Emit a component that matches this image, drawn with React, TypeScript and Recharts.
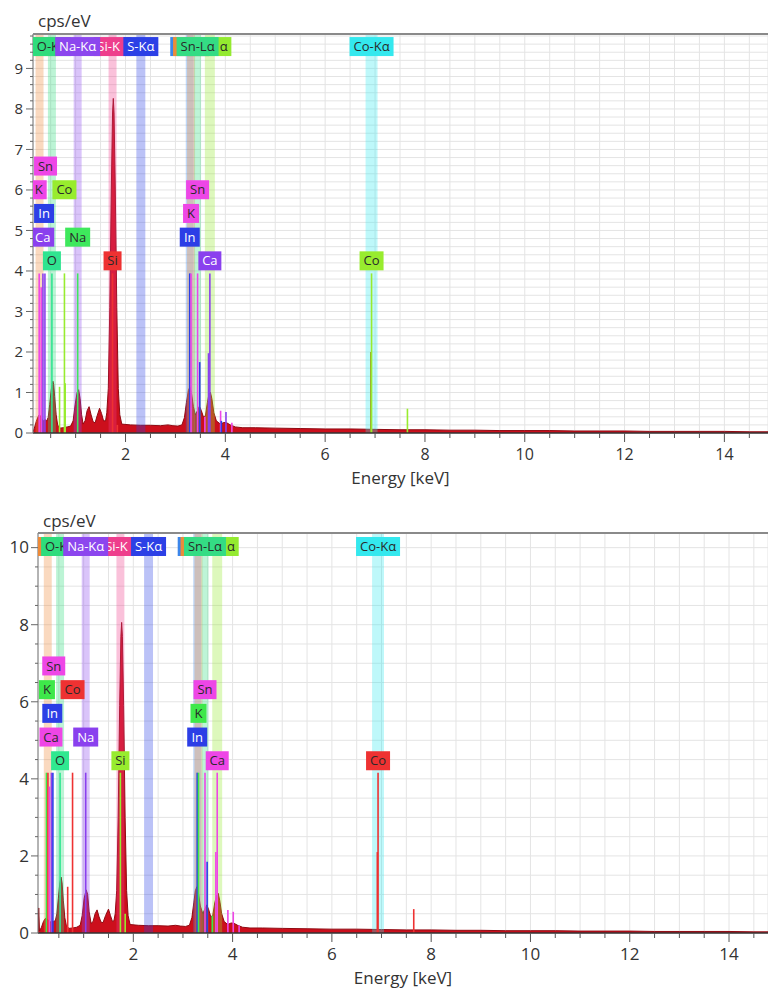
import React from 'react';
import {
  ComposedChart,
  Area,
  XAxis,
  YAxis,
  CartesianGrid,
  ReferenceArea,
  ReferenceLine,
  ReferenceDot,
} from 'recharts';

const FONT = '"Open Sans", "DejaVu Sans", sans-serif';

// spectra, [energy keV, cps/eV]
const spectrumTop: [number, number][] = [
  [0.15, 0.03], [0.18, 0.15], [0.21, 0.28], [0.24, 0.38], [0.27, 0.45], [0.3, 0.42],
  [0.33, 0.33], [0.36, 0.3], [0.39, 0.33], [0.42, 0.3], [0.45, 0.38], [0.48, 0.7],
  [0.51, 1.05], [0.53, 1.22], [0.545, 1.28], [0.56, 1.2], [0.58, 0.9], [0.61, 0.45],
  [0.64, 0.2], [0.68, 0.12], [0.75, 0.13], [0.83, 0.15], [0.9, 0.17], [0.95, 0.3],
  [0.99, 0.7], [1.03, 1.0], [1.06, 1.07], [1.09, 0.85], [1.12, 0.45], [1.15, 0.22],
  [1.19, 0.3], [1.23, 0.55], [1.27, 0.65], [1.31, 0.45], [1.35, 0.28], [1.39, 0.25],
  [1.43, 0.42], [1.48, 0.61], [1.52, 0.48], [1.56, 0.3], [1.6, 0.3], [1.625, 0.5],
  [1.655, 1.1], [1.685, 3.1], [1.715, 6.0], [1.74, 7.9], [1.755, 8.26], [1.77, 7.9],
  [1.795, 6.0], [1.825, 3.1], [1.855, 1.1], [1.885, 0.45], [1.925, 0.22], [2.1, 0.2],
  [2.3, 0.19], [2.5, 0.19], [2.7, 0.18], [2.85, 0.2], [2.95, 0.18], [3.05, 0.17],
  [3.13, 0.2], [3.18, 0.38], [3.22, 0.75], [3.26, 1.05], [3.29, 1.14], [3.32, 1.0],
  [3.36, 0.65], [3.4, 0.45], [3.44, 0.55], [3.48, 0.66], [3.52, 0.55], [3.56, 0.4],
  [3.6, 0.42], [3.64, 0.75], [3.67, 0.95], [3.7, 1.01], [3.73, 0.85], [3.77, 0.5],
  [3.82, 0.3], [3.9, 0.22], [3.97, 0.26], [4.03, 0.25], [4.1, 0.2], [4.2, 0.15],
  [4.35, 0.13], [4.6, 0.13], [5.0, 0.12], [5.5, 0.11], [6.0, 0.1], [6.5, 0.1],
  [7.0, 0.09], [7.5, 0.08], [8.0, 0.08], [8.5, 0.07], [9.0, 0.07], [9.5, 0.06],
  [10, 0.06], [10.5, 0.06], [11, 0.05], [11.5, 0.05], [12, 0.05], [12.5, 0.04],
  [13, 0.04], [13.5, 0.04], [14, 0.04], [14.5, 0.03], [14.9, 0.03],
];

const spectrumBottom: [number, number][] = [
  [0.08, 0.05], [0.095, 0.65], [0.11, 0.05], [0.15, 0.15], [0.19, 0.3], [0.23, 0.38],
  [0.27, 0.36], [0.31, 0.3], [0.35, 0.28], [0.39, 0.3], [0.43, 0.32], [0.46, 0.5],
  [0.49, 0.9], [0.52, 1.3], [0.545, 1.45], [0.565, 1.3], [0.59, 0.85], [0.62, 0.4],
  [0.65, 0.2], [0.7, 0.12], [0.78, 0.13], [0.86, 0.15], [0.93, 0.2], [0.97, 0.45],
  [1.01, 0.9], [1.05, 1.12], [1.08, 1.0], [1.11, 0.55], [1.15, 0.25], [1.19, 0.3],
  [1.23, 0.5], [1.27, 0.6], [1.31, 0.42], [1.35, 0.28], [1.39, 0.27], [1.44, 0.45],
  [1.5, 0.62], [1.54, 0.45], [1.58, 0.3], [1.61, 0.32], [1.635, 0.5], [1.665, 1.1],
  [1.695, 3.0], [1.725, 5.9], [1.75, 7.7], [1.765, 8.06], [1.78, 7.7], [1.805, 5.9],
  [1.835, 3.0], [1.865, 1.1], [1.895, 0.45], [1.935, 0.22], [2.1, 0.2], [2.3, 0.19],
  [2.5, 0.19], [2.7, 0.18], [2.85, 0.2], [2.95, 0.18], [3.05, 0.17], [3.13, 0.2],
  [3.18, 0.4], [3.22, 0.8], [3.25, 1.1], [3.28, 1.2], [3.31, 1.05], [3.35, 0.7],
  [3.4, 0.5], [3.44, 0.62], [3.48, 0.73], [3.52, 0.6], [3.56, 0.42], [3.6, 0.45],
  [3.64, 0.78], [3.68, 0.98], [3.71, 1.03], [3.74, 0.85], [3.78, 0.5], [3.83, 0.3],
  [3.9, 0.22], [3.97, 0.26], [4.03, 0.25], [4.1, 0.2], [4.2, 0.15], [4.35, 0.13],
  [4.6, 0.13], [5.0, 0.12], [5.5, 0.11], [6.0, 0.1], [6.5, 0.1], [7.0, 0.09],
  [7.5, 0.08], [8.0, 0.08], [8.5, 0.07], [9.0, 0.07], [9.5, 0.06], [10, 0.06],
  [10.5, 0.06], [11, 0.05], [11.5, 0.05], [12, 0.05], [12.5, 0.04], [13, 0.04],
  [13.5, 0.04], [14, 0.04], [14.5, 0.03], [14.9, 0.03],
];

// line families: shaded band + tag in the top row (draw order matters, later ones cover earlier)
const bandName = ['C-Kα', 'O-Kα', 'Si-Kα', 'Na-Kα', 'S-Kα', 'In-Lα', 'K-Kα', 'Ca-Kα', 'Sn-Lα', 'Co-Kα'];
const bandEnergy = [0.277, 0.525, 1.74, 1.041, 2.307, 3.287, 3.313, 3.69, 3.444, 6.93];
const bandHalf = [0.08, 0.08, 0.08, 0.08, 0.09, 0.08, 0.08, 0.1, 0.07, 0.12];
const bandColor = ['#ee8a38', '#2edc7c', '#ee3e8c', '#8c46ee', '#2c40e6', '#3c86ea', '#ea8c3a', '#94ea30', '#34dc84', '#34e8ee'];
// part of each tag's text left uncovered by the tags drawn over it
const rowShown = ['', 'O-K', 'Si-K', 'Na-Kα', 'S-Kα', '', '', 'α', 'Sn-Lα', 'Co-Kα'];
const rowAnchor = ['middle', 'start', 'start', 'middle', 'middle', 'middle', 'middle', 'end', 'middle', 'middle'];

// element tags, level 0 is the lowest row
const tagTextTop = ['Sn', 'K', 'Co', 'In', 'Ca', 'Na', 'O', 'Si', 'Sn', 'K', 'In', 'Ca', 'Co'];
const tagEnergyTop = [0.397, 0.26, 0.776, 0.368, 0.341, 1.041, 0.525, 1.74, 3.444, 3.313, 3.287, 3.69, 6.93];
const tagLevelTop = [4, 3, 3, 2, 1, 1, 0, 0, 3, 2, 1, 0, 0];
const tagTextBottom = tagTextTop;
const tagEnergyBottom = tagEnergyTop;
const tagLevelBottom = tagLevelTop;

// marker lines
const markEnergyTop = [0.27, 0.31, 0.345, 0.385, 0.525, 0.678, 0.776, 0.791, 1.041, 1.74, 1.836, 3.287, 3.313, 3.444, 3.487, 3.59, 3.663, 3.69, 3.905, 3.92, 4.013, 4.131, 6.915, 6.93, 7.649];
const markHeightTop = [3.94, 3.6, 3.94, 3.94, 3.94, 1.14, 3.94, 1.23, 3.94, 3.94, 0.2, 3.94, 3.94, 3.94, 1.75, 0.4, 1.97, 3.94, 0.55, 0.3, 0.52, 0.25, 2.0, 3.94, 0.6];
const markElemTop = ['K', 'K', 'Ca', 'Ca', 'O', 'Co', 'Co', 'Co', 'Na', 'Si', 'Si', 'In', 'K', 'Sn', 'In', 'K', 'Ca', 'Ca', 'Sn', 'In', 'Ca', 'Sn', 'Co2', 'Co', 'Co'];

const markEnergyBottom = [0.25, 0.28, 0.31, 0.35, 0.38, 0.525, 0.678, 0.776, 1.041, 1.74, 1.836, 3.287, 3.313, 3.444, 3.487, 3.59, 3.663, 3.69, 3.905, 4.013, 4.131, 6.915, 6.93, 7.649];
const markHeightBottom = [4.16, 4.16, 3.8, 4.16, 4.16, 4.16, 1.2, 4.16, 4.16, 4.16, 0.5, 4.16, 4.16, 4.16, 1.85, 0.45, 2.1, 4.16, 0.6, 0.55, 0.2, 2.1, 4.16, 0.62];
const markElemBottom = ['K', 'Co', 'Ca', 'Na', 'In', 'O', 'Co', 'Co', 'Na', 'Si', 'Si', 'In', 'K', 'Sn', 'In', 'K', 'Sn', 'Ca', 'Sn', 'Ca', 'Sn', 'Co', 'Co', 'Co'];

const colorTop: Record<string, string> = {
  Sn: '#ee46e6', K: '#ee46e6', Co: '#98ec2e', Co2: '#9aa030', In: '#2c3ee6', Ca: '#8a40ee',
  Na: '#3ee85c', O: '#30e490', Si: '#ee3232',
};
const colorBottom: Record<string, string> = {
  Sn: '#ee46e6', K: '#3ee84a', Co: '#ee3232', In: '#2c3ee6', Ca: '#ee46e6',
  Na: '#8a40ee', O: '#30e890', Si: '#98ec2e',
};
const whiteText = ['#2c3ee6', '#8a40ee', '#8c46ee', '#2c40e6', '#ee3e8c'];

const xLabels = [2, 4, 6, 8, 10, 12, 14];

const range = (a: number, b: number, s: number) => {
  const out: number[] = [];
  for (let v = a; v <= b + 1e-9; v += s) out.push(Math.round(v * 100) / 100);
  return out;
};

let ctx: CanvasRenderingContext2D | null = null;
const textWidth = (t: string) => {
  if (!ctx) ctx = document.createElement('canvas').getContext('2d');
  if (!ctx) return t.length * 8;
  ctx.font = `13px ${FONT}`;
  return ctx.measureText(t).width;
};

const tagShape = (text: string, fill: string, shown = text, anchor = 'middle') => (p: any) => {
  const tw = textWidth(text);
  const w = Math.round(tw) + 8;
  const h = 19;
  const light = whiteText.includes(fill);
  const tx = anchor === 'start' ? p.cx - tw / 2 : anchor === 'end' ? p.cx + tw / 2 : p.cx;
  return (
    <g clipPath={p.clipPath}>
      <rect x={p.cx - w / 2} y={p.cy - h / 2} width={w} height={h} fill={fill} />
      {shown && (
        <text x={tx} y={p.cy + 4.6} textAnchor={anchor} fontSize={13} fontFamily={FONT} fill={light ? '#fff' : '#2a2a2a'}>
          {shown}
        </text>
      )}
    </g>
  );
};

type PanelProps = {
  spectrum: [number, number][];
  xMin: number;
  xMax: number;
  yMax: number;
  yStep: number;
  yEvery: number;
  height: number;
  marginTop: number;
  yAxisWidth: number;
  xAxisHeight: number;
  titleOffset: number;
  tagText: string[];
  tagEnergy: number[];
  tagLevel: number[];
  tagBase: number;
  tagStep: number;
  rowY: number;
  colors: Record<string, string>;
  markEnergy: number[];
  markHeight: number[];
  markElem: string[];
  xFont: number;
  yFont: number;
  yGap: number;
  yDy: number;
};

function Panel(p: PanelProps) {
  const data = p.spectrum.map(([e, v]) => ({ e, v }));
  const xTicks = range(0.5, 14.5, 0.5);
  const yTicks = range(0, p.yMax, p.yStep);

  const XTick = (t: any) => {
    const v = t.payload.value;
    const major = xLabels.includes(v);
    return (
      <g>
        <line x1={t.x} x2={t.x} y1={t.y} y2={t.y + (major ? 9 : 5)} stroke="#555" />
        {major && (
          <text x={t.x} y={t.y + 27} textAnchor="middle" fontSize={p.xFont} fontFamily={FONT} fill="#333">
            {v}
          </text>
        )}
      </g>
    );
  };

  const YTick = (t: any) => {
    const v = t.payload.value;
    const major = Math.abs(v / p.yEvery - Math.round(v / p.yEvery)) < 1e-6;
    return (
      <g>
        <line x1={t.x - (major ? 7 : 3)} x2={t.x} y1={t.y} y2={t.y} stroke="#666" />
        {major && (
          <text x={t.x - p.yGap} y={t.y + p.yDy} textAnchor="end" fontSize={p.yFont} fontFamily={FONT} fill="#333">
            {v}
          </text>
        )}
      </g>
    );
  };

  return (
    <ComposedChart width={768} height={p.height} data={data} margin={{ top: p.marginTop, right: 0, bottom: 0, left: 0 }}>
      <CartesianGrid stroke="#e4e4e4" />
      <XAxis
        dataKey="e"
        type="number"
        domain={[p.xMin, p.xMax]}
        allowDataOverflow
        ticks={xTicks}
        interval={0}
        tickSize={0}
        tickMargin={0}
        tick={XTick}
        height={p.xAxisHeight}
        axisLine={{ stroke: '#333', strokeWidth: 1.5 }}
        label={{ value: 'Energy [keV]', position: 'insideBottom', offset: p.titleOffset, fill: '#333', fontSize: 17, fontFamily: FONT }}
      />
      <YAxis
        type="number"
        domain={[0, p.yMax]}
        allowDataOverflow
        ticks={yTicks}
        interval={0}
        tickSize={0}
        tickMargin={0}
        tick={YTick}
        width={p.yAxisWidth}
        axisLine={{ stroke: '#777' }}
      />
      <Area
        dataKey="v"
        type="linear"
        stroke="#900a12"
        strokeWidth={1}
        fill="#cc0f1c"
        fillOpacity={1}
        dot={false}
        activeDot={false}
        isAnimationActive={false}
      />
      {bandName.map((n, i) => (
        <ReferenceArea
          key={`band-${n}`}
          x1={bandEnergy[i] - bandHalf[i]}
          x2={bandEnergy[i] + bandHalf[i]}
          y1={0}
          y2={p.yMax}
          fill={bandColor[i]}
          fillOpacity={0.32}
          stroke="none"
          zIndex={150}
        />
      ))}
      {p.markEnergy.map((e, i) => (
        <ReferenceLine
          key={`mark-${i}`}
          segment={[{ x: e, y: 0 }, { x: e, y: p.markHeight[i] }]}
          stroke={p.colors[p.markElem[i]]}
          strokeWidth={1.6}
          zIndex={450}
        />
      ))}
      {p.tagText.map((t, i) => (
        <ReferenceDot
          key={`tag-${i}`}
          x={p.tagEnergy[i]}
          y={p.tagBase + p.tagStep * p.tagLevel[i]}
          r={0}
          ifOverflow="hidden"
          shape={tagShape(t, p.colors[t])}
          zIndex={700}
        />
      ))}
      {bandName.map((n, i) => (
        <ReferenceDot
          key={`row-${n}`}
          x={bandEnergy[i]}
          y={p.rowY}
          r={0}
          ifOverflow="hidden"
          shape={tagShape(n, bandColor[i], rowShown[i], rowAnchor[i])}
          zIndex={700}
        />
      ))}
      <ReferenceLine y={p.yMax} stroke="#8a8a8a" strokeWidth={2} zIndex={800} />
    </ComposedChart>
  );
}

const unitStyle: React.CSSProperties = {
  position: 'absolute',
  fontFamily: FONT,
  fontSize: 17,
  lineHeight: '17px',
  color: '#333',
};

export default function App() {
  return (
    <div style={{ position: 'absolute', left: 0, top: 0, width: 768, height: 988, background: '#fff', overflow: 'hidden' }}>
      <div style={{ position: 'absolute', left: 0, top: 0 }}>
        <Panel
          spectrum={spectrumTop}
          xMin={0.146}
          xMax={14.874}
          yMax={9.85}
          yStep={0.2}
          yEvery={1}
          height={495}
          marginTop={34}
          yAxisWidth={33}
          xAxisHeight={62}
          titleOffset={11}
          tagText={tagTextTop}
          tagEnergy={tagEnergyTop}
          tagLevel={tagLevelTop}
          tagBase={4.25}
          tagStep={0.585}
          rowY={9.54}
          colors={colorTop}
          markEnergy={markEnergyTop}
          markHeight={markHeightTop}
          markElem={markElemTop}
          xFont={16}
          yFont={15}
          yGap={10}
          yDy={5.3}
        />
      </div>
      <div style={{ ...unitStyle, left: 38, top: 12 }}>cps/eV</div>
      <div style={{ position: 'absolute', left: 0, top: 500 }}>
        <Panel
          spectrum={spectrumBottom}
          xMin={0.08}
          xMax={14.785}
          yMax={10.38}
          yStep={0.5}
          yEvery={2}
          height={488}
          marginTop={33}
          yAxisWidth={38}
          xAxisHeight={55}
          titleOffset={4}
          tagText={tagTextBottom}
          tagEnergy={tagEnergyBottom}
          tagLevel={tagLevelBottom}
          tagBase={4.47}
          tagStep={0.615}
          rowY={10.03}
          colors={colorBottom}
          markEnergy={markEnergyBottom}
          markHeight={markHeightBottom}
          markElem={markElemBottom}
          xFont={17}
          yFont={17}
          yGap={9}
          yDy={5.8}
        />
      </div>
      <div style={{ ...unitStyle, left: 43, top: 512 }}>cps/eV</div>
    </div>
  );
}
